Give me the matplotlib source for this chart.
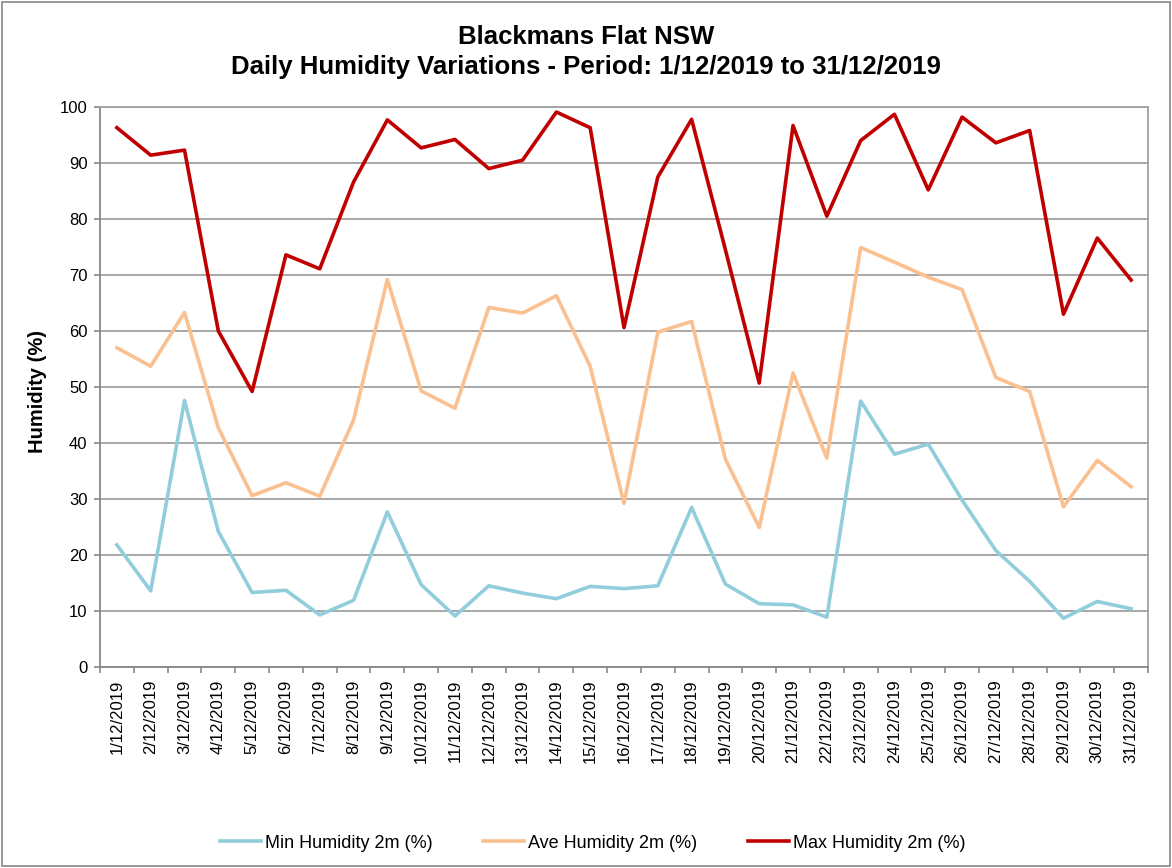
import matplotlib.pyplot as plt
import numpy as np

plt.rcParams['font.family'] = ['Liberation Sans', 'DejaVu Sans']

dates = ['%d/12/2019' % d for d in range(1, 32)]

max_hum = [96.3, 91.4, 92.3, 60.0, 49.2, 73.6, 71.1, 86.6, 97.7, 92.7, 94.2, 89.0, 90.5, 99.1, 96.3, 60.6,
           87.5, 97.8, 74.5, 50.7, 96.7, 80.5, 94.0, 98.7, 85.2, 98.2, 93.6, 95.8, 63.0, 76.6, 69.1]
ave_hum = [57.0, 53.7, 63.3, 42.7, 30.6, 32.9, 30.5, 44.1, 69.2, 49.3, 46.2, 64.2, 63.2, 66.3, 53.7, 29.2,
           59.8, 61.7, 37.1, 24.9, 52.5, 37.3, 74.9, 72.3, 69.6, 67.4, 51.7, 49.2, 28.6, 36.9, 32.2]
min_hum = [21.8, 13.6, 47.6, 24.2, 13.3, 13.7, 9.3, 11.9, 27.7, 14.7, 9.1, 14.5, 13.2, 12.2, 14.4, 14.0,
           14.5, 28.5, 14.8, 11.3, 11.1, 8.9, 47.5, 38.0, 39.8, 29.8, 20.8, 15.3, 8.7, 11.7, 10.4]

fig = plt.figure(figsize=(11.72, 8.68), dpi=100)
# plot area in pixels: x 100..1148, y 107..667
ax = fig.add_axes([100 / 1172, 201 / 868, 1048 / 1172, 560 / 868])

x = np.arange(len(dates))
ax.plot(x, min_hum, color='#92CDDC', lw=2.6, label='Min Humidity 2m (%)')
ax.plot(x, ave_hum, color='#FAC090', lw=2.6, label='Ave Humidity 2m (%)')
ax.plot(x, max_hum, color='#C00000', lw=2.6, label='Max Humidity 2m (%)')

ax.set_xlim(-0.5, len(dates) - 0.5)
ax.set_ylim(0, 100)
ax.set_yticks(range(0, 101, 10))
ax.yaxis.grid(True, color='#A0A0A0', lw=1.3)
ax.set_axisbelow(True)

ax.set_xticks(x)
ax.set_xticklabels(dates, rotation=90, fontsize=12)
ax.tick_params(axis='x', length=0, pad=9)
ax.set_xticks(np.arange(-0.5, len(dates), 1), minor=True)
ax.tick_params(axis='x', which='minor', length=4, width=1.2, color='#888888', direction='out')
ax.tick_params(axis='y', length=4, width=1.2, color='#888888', direction='out', labelsize=12, pad=5)

for s in ['top', 'right']:
    ax.spines[s].set_color('#A0A0A0')
for s in ['left', 'bottom']:
    ax.spines[s].set_color('#888888')
for s in ax.spines.values():
    s.set_linewidth(1.3)

ax.set_ylabel('Humidity (%)', fontsize=14.5, fontweight='bold')
ax.yaxis.set_label_coords(-0.051, 0.492)

fig.text(0.5, 1 - 37 / 868, 'Blackmans Flat NSW', ha='center', va='center',
         fontsize=18.5, fontweight='bold')
fig.text(0.5, 1 - 67 / 868, 'Daily Humidity Variations - Period: 1/12/2019 to 31/12/2019',
         ha='center', va='center', fontsize=18.5, fontweight='bold')

fig.legend(loc='center', bbox_to_anchor=(0.5055, 1 - 843 / 868), ncol=3, frameon=False, fontsize=13,
           handlelength=2.3, columnspacing=2.8, handletextpad=0.2)

fig.patches.append(plt.Rectangle((0.002, 0.002), 0.996, 0.996, transform=fig.transFigure,
                                 fill=False, edgecolor='#888888', lw=1.2))

fig.savefig('out.png', dpi=100)
